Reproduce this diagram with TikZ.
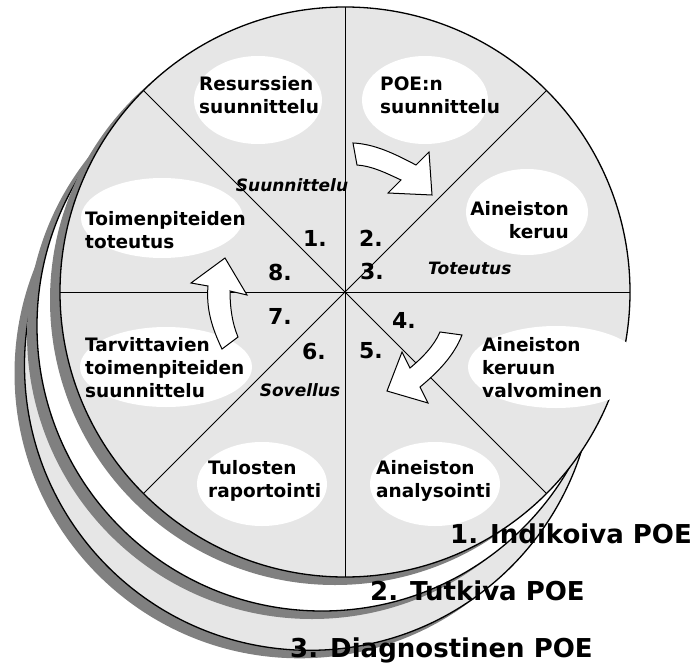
\documentclass[tikz,border=0pt]{standalone}
\usepackage{fontspec}
\setmainfont{DejaVu Sans}
\usetikzlibrary{shapes.geometric,calc}
\definecolor{panel}{HTML}{E6E6E6}
\definecolor{shadegray}{HTML}{808080}
\begin{document}
\begin{tikzpicture}[x=1pt,y=-1pt,
  rim/.style={draw=black,line width=1.3pt},
  shadowfill/.style={fill=shadegray},
  divider/.style={draw=black,line width=0.9pt},
  bubble/.style={ellipse,fill=white,draw=none,inner sep=0pt},
  tasktext/.style={font=\bfseries\fontsize{18.5}{23}\selectfont,inner sep=0pt},
  phase/.style={font=\bfseries\itshape\fontsize{17}{20}\selectfont,inner sep=0pt},
  stepno/.style={font=\bfseries\fontsize{22}{24}\selectfont,inner sep=0pt},
  level/.style={font=\bfseries\fontsize{26}{30}\selectfont,inner sep=0pt,anchor=base west},
  turn/.style={fill=white,draw=black,line width=1pt,line join=miter}
]
\useasboundingbox (0,0) rectangle (696,666);

% stacked discs, drawn from the back to the front, each with its shadow
\fill[shadowfill] (299.5,373.3) circle[radius=285pt];
\filldraw[fill=panel,rim] (309.5,365.3) circle[radius=285pt];
\fill[shadowfill] (312,334) circle[radius=285pt];
\filldraw[fill=white,rim] (322,326) circle[radius=285pt];
\fill[shadowfill] (335,300) circle[radius=285pt];
\filldraw[fill=panel,rim] (345,292) circle[radius=285pt];

% eight sectors of the front disc
\coordinate (hub) at (345,292);
\foreach \a in {0,45,90,135}
  \draw[divider] ($(hub)+(\a:285)$) -- ($(hub)+(\a+180:285)$);

% white ovals behind the task names
\node[bubble,minimum width=128pt,minimum height=88pt] (b1) at (258,100) {};
\node[bubble,minimum width=126pt,minimum height=88pt] (b2) at (425,100) {};
\node[bubble,minimum width=122pt,minimum height=86pt] (b3) at (527,212) {};
\node[bubble,minimum width=176pt,minimum height=82pt] (b4) at (556,367) {};
\node[bubble,minimum width=130pt,minimum height=84pt] (b5) at (435,484) {};
\node[bubble,minimum width=130pt,minimum height=84pt] (b6) at (262,484) {};
\node[bubble,minimum width=172pt,minimum height=80pt] (b7) at (166,367) {};
\node[bubble,minimum width=162pt,minimum height=80pt] (b8) at (162,218) {};

% curved arrows showing the direction of the cycle
\draw[turn] (353,143) .. controls (375,144) and (395,154) .. (416,165)
  -- (429,152) -- (432,195) -- (388,193) -- (401,180)
  .. controls (386,173) and (372,166) .. (357,165) -- cycle;
\draw[turn] (462,335) .. controls (454,356) and (437,373) .. (420,387)
  -- (428,403) -- (387,391) -- (402,352) -- (410,368)
  .. controls (422,358) and (434,346) .. (440,332) -- cycle;
\draw[turn] (222,349) .. controls (212,328) and (206,309) .. (208,286)
  -- (191,283) -- (225,258) -- (247,295) -- (230,291)
  .. controls (230,306) and (232,323) .. (238,337) -- cycle;

% task names
\node[tasktext,align=left,anchor=west] (t1) at (199,95) {Resurssien\\suunnittelu};
\node[tasktext,align=left,anchor=west] (t2) at (380,95) {POE:n\\suunnittelu};
\node[tasktext,align=right,anchor=east] (t3) at (569,220) {Aineiston\\keruu};
\node[tasktext,align=left,anchor=west] (t4) at (482,368) {Aineiston\\keruun\\valvominen};
\node[tasktext,align=left,anchor=west] (t5) at (376,481) {Aineiston\\analysointi};
\node[tasktext,align=left,anchor=west] (t6) at (208,481) {Tulosten\\raportointi};
\node[tasktext,align=left,anchor=west] (t7) at (85,368) {Tarvittavien\\toimenpiteiden\\suunnittelu};
\node[tasktext,align=left,anchor=west] (t8) at (85,230) {Toimenpiteiden\\toteutus};

% step numbers
\node[stepno] (n1) at (315,238) {1.};
\node[stepno] (n2) at (371,238) {2.};
\node[stepno] (n3) at (372,271) {3.};
\node[stepno] (n4) at (404,320) {4.};
\node[stepno] (n5) at (371,351) {5.};
\node[stepno] (n6) at (314,351) {6.};
\node[stepno] (n7) at (280,316) {7.};
\node[stepno] (n8) at (280,272) {8.};

% phase names
\node[phase] (p1) at (292,185) {Suunnittelu};
\node[phase,anchor=west] (p2) at (428,268) {Toteutus};
\node[phase] (p3) at (300,390) {Sovellus};

% levels of the stack
\node[level] (l1) at (450,543) {1. Indikoiva POE};
\node[level] (l2) at (370,600) {2. Tutkiva POE};
\node[level] (l3) at (290,657) {3. Diagnostinen POE};
\end{tikzpicture}
\end{document}
